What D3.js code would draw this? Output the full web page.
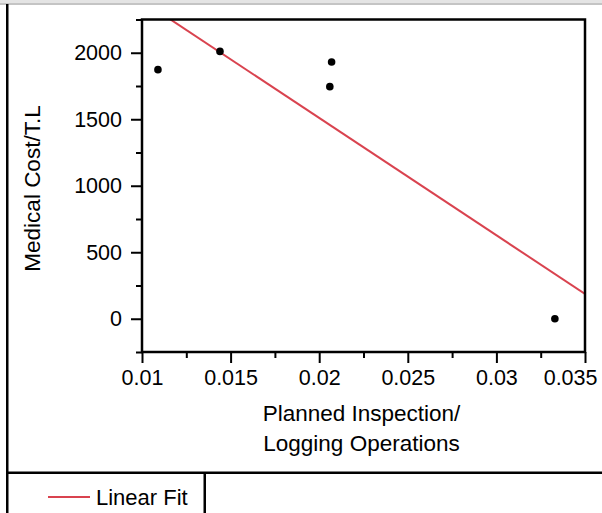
<!DOCTYPE html>
<html>
<head>
<meta charset="utf-8">
<script src="https://cdn.jsdelivr.net/npm/d3@7"></script>
<style>
  html, body { margin: 0; padding: 0; background: #fff; }
  svg { display: block; font-family: "Liberation Sans", Arial, sans-serif; }
</style>
</head>
<body>
<svg id="chart" width="602" height="513"></svg>
<script>
// Observations: planned inspection ratio vs. medical cost per T.L
const inspection = [0.0109, 0.0144, 0.0207, 0.0206, 0.0333];
const medicalCost = [1873, 2010, 1930, 1745, 0];

const xTicks = [0.01, 0.015, 0.02, 0.025, 0.03, 0.035];
const xTickLabels = ["0.01", "0.015", "0.02", "0.025", "0.03", "0.035"];
const yTicks = [0, 500, 1000, 1500, 2000];
const yTickLabels = ["0", "500", "1000", "1500", "2000"];
const xMinor = [0.0125, 0.0175, 0.0225, 0.0275, 0.0325];
const yMinor = [-250, 250, 750, 1250, 1750, 2250];

const xTitle = ["Planned Inspection/", "Logging Operations"];
const yTitle = "Medical Cost/T.L";
const legendLabel = "Linear Fit";

const svg = d3.select("#chart");
const plot = { left: 142, right: 585, top: 19.5, bottom: 352 };
const fitColor = "#d9434f";

const x = d3.scaleLinear().domain([0.01, 0.035]).range([plot.left, plot.right]);
const y = d3.scaleLinear().domain([-250, 2250]).range([plot.bottom, plot.top]);

// window chrome: grey strip at top, rule on the left, legend cell at bottom
svg.append("rect").attr("x", 0).attr("y", 0).attr("width", 602).attr("height", 3).attr("fill", "#e4e4e4");
svg.append("rect").attr("x", 0).attr("y", 3).attr("width", 602).attr("height", 2).attr("fill", "#c4c4c4");
svg.append("rect").attr("x", 6).attr("y", 4).attr("width", 2.5).attr("height", 509).attr("fill", "#000");
svg.append("rect").attr("x", 6).attr("y", 471.5).attr("width", 596).attr("height", 2.5).attr("fill", "#000");
svg.append("rect").attr("x", 203.5).attr("y", 472).attr("width", 2.5).attr("height", 41).attr("fill", "#000");

// linear least-squares fit of the observations
const mx = d3.mean(inspection), my = d3.mean(medicalCost);
const sxy = d3.sum(inspection, (v, i) => (v - mx) * (medicalCost[i] - my));
const sxx = d3.sum(inspection, v => (v - mx) * (v - mx));
const slope = sxy / sxx, intercept = my - slope * mx;

svg.append("clipPath").attr("id", "plotClip")
  .append("rect").attr("x", plot.left).attr("y", plot.top)
  .attr("width", plot.right - plot.left).attr("height", plot.bottom - plot.top);

svg.append("line")
  .attr("clip-path", "url(#plotClip)")
  .attr("x1", x(0.01)).attr("y1", y(intercept + slope * 0.01))
  .attr("x2", x(0.035)).attr("y2", y(intercept + slope * 0.035))
  .attr("stroke", fitColor).attr("stroke-width", 2);

svg.append("g").selectAll("circle")
  .data(inspection.map((v, i) => [v, medicalCost[i]]))
  .join("circle")
  .attr("cx", d => x(d[0])).attr("cy", d => y(d[1]))
  .attr("r", 3.8).attr("fill", "#000");

// axes
svg.append("g").attr("class", "x-axis").attr("transform", `translate(0,${plot.bottom})`)
  .call(d3.axisBottom(x).tickValues(xTicks).tickFormat((d, i) => xTickLabels[i])
    .tickSize(11).tickPadding(7));
svg.append("g").attr("transform", `translate(0,${plot.bottom})`)
  .call(d3.axisBottom(x).tickValues(xMinor).tickFormat("").tickSize(6))
  .call(g => g.select(".domain").remove());

svg.append("g").attr("transform", `translate(${plot.left},0)`)
  .call(d3.axisLeft(y).tickValues(yTicks).tickFormat((d, i) => yTickLabels[i])
    .tickSize(11).tickPadding(9));
svg.append("g").attr("transform", `translate(${plot.left},0)`)
  .call(d3.axisLeft(y).tickValues(yMinor).tickFormat("").tickSize(6))
  .call(g => g.select(".domain").remove());

svg.selectAll(".tick line").attr("stroke", "#000").attr("stroke-width", 2);
svg.selectAll(".domain").remove();
svg.selectAll(".tick text").attr("fill", "#000").attr("font-size", 21.5)
  .attr("font-family", "'Liberation Sans', Arial, sans-serif");
// keep the last x label inside the page edge
svg.selectAll(".x-axis .tick text").filter(d => d === 0.035)
  .attr("text-anchor", "end").attr("x", 12);

// plot frame
svg.append("rect")
  .attr("x", plot.left).attr("y", plot.top)
  .attr("width", plot.right - plot.left).attr("height", plot.bottom - plot.top)
  .attr("fill", "none").attr("stroke", "#000").attr("stroke-width", 2.5);

// titles
const cx = (plot.left + plot.right) / 2 - 2;
svg.append("text").attr("x", cx).attr("y", 421).attr("text-anchor", "middle")
  .attr("font-size", 22.5).attr("fill", "#000").text(xTitle[0]);
svg.append("text").attr("x", cx).attr("y", 451).attr("text-anchor", "middle")
  .attr("font-size", 22.5).attr("fill", "#000").text(xTitle[1]);
svg.append("text")
  .attr("transform", `translate(40,188.5) rotate(-90)`)
  .attr("text-anchor", "middle").attr("font-size", 22.5).attr("fill", "#000").text(yTitle);

// legend
svg.append("line").attr("x1", 48).attr("x2", 90).attr("y1", 497).attr("y2", 497)
  .attr("stroke", fitColor).attr("stroke-width", 2);
svg.append("text").attr("x", 96).attr("y", 505).attr("font-size", 22)
  .attr("fill", "#000").text(legendLabel);
</script>
</body>
</html>
